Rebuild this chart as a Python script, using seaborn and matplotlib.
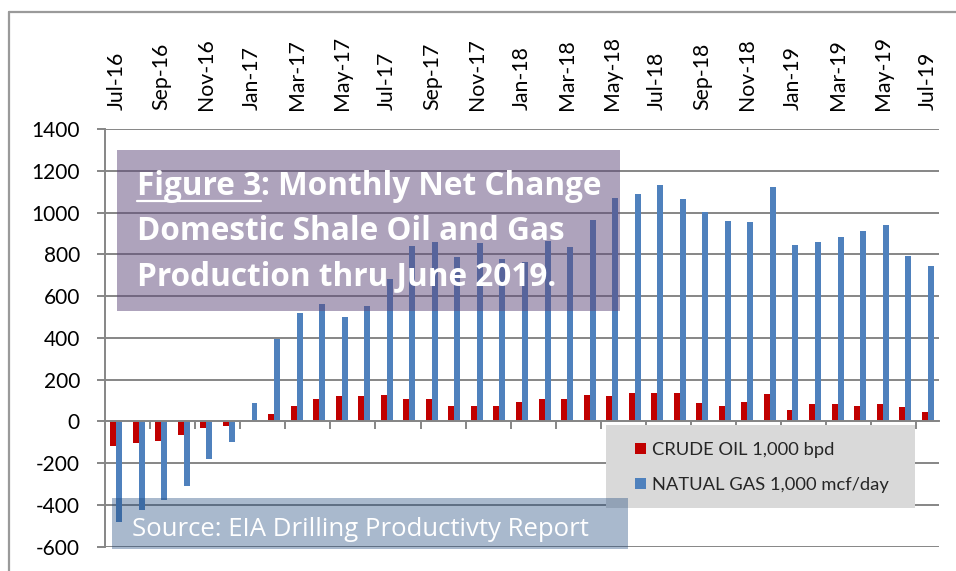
import matplotlib
matplotlib.use("Agg")
import numpy as np
import pandas as pd
import matplotlib.pyplot as plt
import seaborn as sns
from matplotlib.patches import Rectangle, Patch
from matplotlib.lines import Line2D

# ---------------- data ----------------
months = ["Jul-16", "Aug-16", "Sep-16", "Oct-16", "Nov-16", "Dec-16",
          "Jan-17", "Feb-17", "Mar-17", "Apr-17", "May-17", "Jun-17",
          "Jul-17", "Aug-17", "Sep-17", "Oct-17", "Nov-17", "Dec-17",
          "Jan-18", "Feb-18", "Mar-18", "Apr-18", "May-18", "Jun-18",
          "Jul-18", "Aug-18", "Sep-18", "Oct-18", "Nov-18", "Dec-18",
          "Jan-19", "Feb-19", "Mar-19", "Apr-19", "May-19", "Jun-19",
          "Jul-19"]
crude_oil = [-120, -104, -93, -65, -34, -20, 2, 36, 75, 107, 120, 120,
             126, 107, 107, 75, 75, 75, 94, 107, 107, 126, 120, 138,
             138, 138, 88, 75, 94, 133, 56, 82, 82, 75, 82, 69, 43]
natural_gas = [-480, -424, -377, -309, -181, -98, 86, 393, 521, 560, 502, 553,
               680, 839, 857, 788, 852, 777, 763, 863, 833, 966, 1072, 1091,
               1130, 1066, 1003, 961, 954, 1124, 845, 858, 884, 910, 941, 794, 743]
series_names = ["CRUDE OIL 1,000 bpd", "NATUAL GAS 1,000 mcf/day"]
series_colors = ["#C00000", "#4F81BD"]
y_ticks = list(range(-600, 1401, 200))
title_lines = ["Figure 3", ": Monthly Net Change",
               "Domestic Shale Oil and Gas", "Production thru June 2019."]
source_text = "Source: EIA Drilling Productivty Report"

df = pd.DataFrame({
    "month": months * 2,
    "value": crude_oil + natural_gas,
    "series": [series_names[0]] * len(months) + [series_names[1]] * len(months),
})

# ---------------- style ----------------
sns.set_style("white")
plt.rcParams["font.family"] = ["Lato", "DejaVu Sans"]

W, H = 956, 571
fig = plt.figure(figsize=(W / 100, H / 100), dpi=100)
fig.patch.set_facecolor("white")

def fx(x):
    return x / W

def fy(y):
    return 1 - y / H

ax_l, ax_r, ax_t, ax_b = 105, 939, 129, 546.7
ax = fig.add_axes([fx(ax_l), fy(ax_b), (ax_r - ax_l) / W, (ax_b - ax_t) / H])

sns.barplot(data=df, x="month", y="value", hue="series", order=months,
            hue_order=series_names, palette=series_colors, width=0.53,
            saturation=1, dodge=True, errorbar=None, legend=False,
            linewidth=0, ax=ax)

grey = "#868686"
ax.set_xlim(-0.5, len(months) - 0.5)
ax.set_ylim(y_ticks[0], y_ticks[-1])
ax.set_yticks(y_ticks)
ax.set_yticklabels([str(v) for v in y_ticks])
ax.set_xlabel("")
ax.set_ylabel("")
ax.set_axisbelow(True)
ax.yaxis.grid(True, color=grey, linewidth=1.4)
ax.xaxis.grid(False)
for s in ["top", "right"]:
    ax.spines[s].set_visible(False)
ax.spines["left"].set_color(grey)
ax.spines["left"].set_linewidth(1.4)
ax.spines["bottom"].set_position(("data", 0))
ax.spines["bottom"].set_color(grey)
ax.spines["bottom"].set_linewidth(1.4)
ax.set_xticks(np.arange(1.5, len(months) - 1, 2))
ax.set_xticklabels([])
ax.tick_params(axis="x", direction="out", length=6, width=1.4, color=grey, bottom=True)
ax.tick_params(axis="y", direction="out", length=6, width=1.4, color=grey,
               labelsize=15, pad=12, labelcolor="black", left=True)

sec = ax.secondary_xaxis("top")
sec.set_xticks(range(0, len(months), 2))
sec.set_xticklabels(months[::2], rotation=90)
sec.tick_params(length=0, pad=14, labelsize=15.3, labelcolor="black")
sec.spines["top"].set_visible(False)

# ---------------- outer chart border ----------------
border_c = "#9A9A9A"
fig.add_artist(Line2D([fx(9), 1.0], [fy(12), fy(12)], color=border_c, lw=1.6, zorder=1))
fig.add_artist(Line2D([fx(9), fx(9)], [fy(12), 0.0], color=border_c, lw=1.6, zorder=1))

# ---------------- legend ----------------
fig.add_artist(Rectangle((fx(606), fy(508)), fx(915) - fx(606), fy(425) - fy(508),
                         facecolor="#D9D9D9", edgecolor="none", zorder=2))
handles = [Patch(facecolor=c, edgecolor="none") for c in series_colors]
fig.legend(handles, series_names, loc="center left",
           bbox_to_anchor=(fx(635), fy(467.5)), frameon=False, borderpad=0,
           handlelength=0.6, handleheight=0.6, handletextpad=0.3,
           labelspacing=1.05, fontsize=13.2, borderaxespad=0)

# ---------------- title box ----------------
fig.add_artist(Rectangle((fx(116.7), fy(311)), fx(620) - fx(116.7), fy(150) - fy(311),
                         facecolor="#5F497A", alpha=0.5, edgecolor="none", zorder=3))
tkw = dict(color="white", fontsize=22.7, fontweight="bold", va="baseline",
           ha="left", zorder=6, family=["Open Sans", "DejaVu Sans"])
t0 = fig.text(fx(136.7), fy(195), title_lines[0], **tkw)
renderer = fig.canvas.get_renderer()
bb = t0.get_window_extent(renderer)
fig.text(bb.x1 / W, fy(195), title_lines[1], **tkw)
fig.add_artist(Line2D([bb.x0 / W, bb.x1 / W], [fy(200.7), fy(200.7)],
                      color="white", lw=1.6, zorder=6))
fig.text(fx(136.7), fy(240), title_lines[2], **tkw)
fig.text(fx(136.7), fy(285), title_lines[3], **tkw)

# ---------------- source box ----------------
fig.add_artist(Rectangle((fx(112), fy(549)), fx(628) - fx(112), fy(498) - fy(549),
                         facecolor="#1F497D", alpha=0.38, edgecolor="none", zorder=4))
fig.text(fx(132), fy(535.7), source_text, color="white", fontsize=18.5,
         va="baseline", ha="left", zorder=6, family=["Open Sans", "DejaVu Sans"])

fig.savefig("out.png", dpi=100)
